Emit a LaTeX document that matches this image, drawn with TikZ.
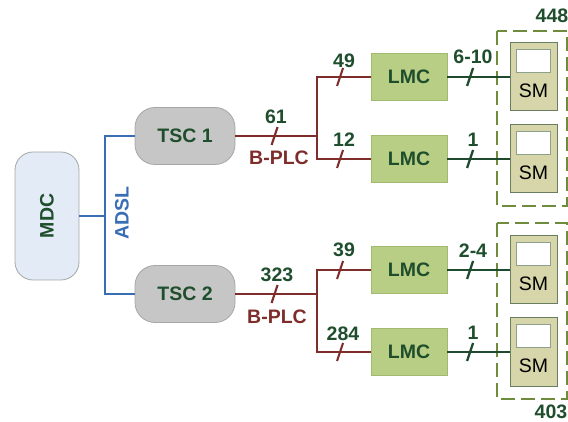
\documentclass[tikz,border=0pt]{standalone}
\usepackage{fontspec}
\setmainfont{Liberation Sans}
\definecolor{txtgreen}{RGB}{31,78,44}
\definecolor{plcred}{RGB}{126,45,43}
\definecolor{adslblue}{RGB}{58,110,180}
\definecolor{lnkgreen}{RGB}{30,75,45}
\definecolor{dashgreen}{RGB}{110,140,60}
\definecolor{mdcfill}{RGB}{227,235,246}
\definecolor{tscfill}{RGB}{198,198,198}
\definecolor{lmcfill}{RGB}{183,206,132}
\definecolor{lmcdraw}{RGB}{160,186,112}
\definecolor{smfill}{RGB}{214,214,170}
\definecolor{smdraw}{RGB}{105,125,95}
\definecolor{scrdraw}{RGB}{140,160,140}
\begin{document}
\begin{tikzpicture}[x=1pt,y=-1pt,
  bigfont/.style={font=\fontsize{19.5}{22}\selectfont\bfseries},
  numlbl/.style={bigfont,text=txtgreen,inner sep=0pt},
  mdcbox/.style={draw=gray!70,line width=0.8pt,fill=mdcfill,rounded corners=18pt,minimum width=64pt,minimum height=128pt,inner sep=0pt},
  tscbox/.style={draw=gray!70,line width=0.8pt,fill=tscfill,rounded corners=20pt,minimum width=100pt,minimum height=57pt,inner sep=0pt,bigfont,text=txtgreen},
  lmcbox/.style={draw=lmcdraw,line width=0.8pt,fill=lmcfill,minimum width=76pt,minimum height=47pt,inner sep=0pt,bigfont,text=txtgreen},
  smbox/.style={draw=smdraw,line width=1pt,fill=smfill,minimum width=47pt,minimum height=68pt,inner sep=0pt},
  screen/.style={draw=scrdraw,line width=0.8pt,fill=white,minimum width=34pt,minimum height=23pt,inner sep=0pt},
  smtext/.style={font=\fontsize{19.5}{22}\selectfont,text=black,inner sep=0pt},
  adsl/.style={draw=adslblue,line width=2.3pt},
  plc/.style={draw=plcred,line width=2.1pt},
  lnk/.style={draw=lnkgreen,line width=2.3pt},
  grpbox/.style={draw=dashgreen,line width=2.4pt,dash pattern=on 14pt off 6pt},
]
\useasboundingbox (0,0) rectangle (568,422);
\newcommand\mytick[2]{\draw[#2] ([shift={(-3pt,-9pt)}]#1) -- ([shift={(3pt,9pt)}]#1);}

% group boxes
\draw[grpbox] (497,31) rectangle (567,206);
\draw[grpbox] (497,223) rectangle (567,399);
\node[numlbl] (n448) at (552,16) {448};
\node[numlbl] (n403) at (551,412) {403};

% nodes
\node[mdcbox] (mdc) at (47,216) {};
\node[bigfont,text=txtgreen,rotate=90] (mdct) at (mdc.center) {MDC};
\node[tscbox] (tsc1) at (185,136) {TSC 1};
\node[tscbox] (tsc2) at (185,294) {TSC 2};
\node[lmcbox] (lmc1) at (409,77) {LMC};
\node[lmcbox] (lmc2) at (409,159) {LMC};
\node[lmcbox] (lmc3) at (409,270) {LMC};
\node[lmcbox] (lmc4) at (409,352) {LMC};
\foreach \i/\y in {1/77,2/159,3/270,4/352}{
  \node[smbox] (sm\i) at (533.5,\y) {};
  \node[screen] (scr\i) at ([yshift=-18.5pt]sm\i.north) {};
  \node[smtext] (smt\i) at ([yshift=-48pt]sm\i.north) {SM};
}

% ADSL links
\coordinate (jb) at (105,216);
\draw[adsl] (mdc.east) -- (jb);
\draw[adsl] (tsc1.west) -| (jb) |- (tsc2.west);
\node[bigfont,text=adslblue,rotate=90,inner sep=0pt] (adsllbl) at (122,213) {ADSL};

% B-PLC TSC1
\coordinate (j1) at (317,136);
\coordinate (j1a) at (317,77);
\coordinate (j1b) at (317,159);
\draw[plc] (tsc1.east) -- coordinate[pos=0.48](t1) (j1);
\draw[plc] (lmc1.west) -- coordinate[pos=0.57](t2) (j1a) -- (j1b) -- coordinate[pos=0.43](t3) (lmc2.west);
\mytick{t1}{plc}\mytick{t2}{plc}\mytick{t3}{plc}
\node[numlbl] at (276,117) {61};
\node[bigfont,text=plcred,inner sep=0pt] at (279,158) {B-PLC};
\node[numlbl] at (344,61) {49};
\node[numlbl] at (344,140) {12};

% B-PLC TSC2
\coordinate (j2) at (317,294);
\coordinate (j2a) at (317,270);
\coordinate (j2b) at (317,352);
\draw[plc] (tsc2.east) -- coordinate[pos=0.48](t4) (j2);
\draw[plc] (lmc3.west) -- coordinate[pos=0.57](t5) (j2a) -- (j2b) -- coordinate[pos=0.43](t6) (lmc4.west);
\mytick{t4}{plc}\mytick{t5}{plc}\mytick{t6}{plc}
\node[numlbl] at (277,275) {323};
\node[bigfont,text=plcred,inner sep=0pt] at (277,317) {B-PLC};
\node[numlbl] at (344,250) {39};
\node[numlbl] at (343,334) {284};

% LMC to SM
\foreach \i/\lab/\ly in {1/6-10/57,2/1/140,3/2-4/251,4/1/333}{
  \draw[lnk] (lmc\i.east) -- coordinate[pos=0.365](g\i) (sm\i.west);
  \mytick{g\i}{lnk}
  \node[numlbl] at (473,\ly) {\lab};
}
\end{tikzpicture}
\end{document}
